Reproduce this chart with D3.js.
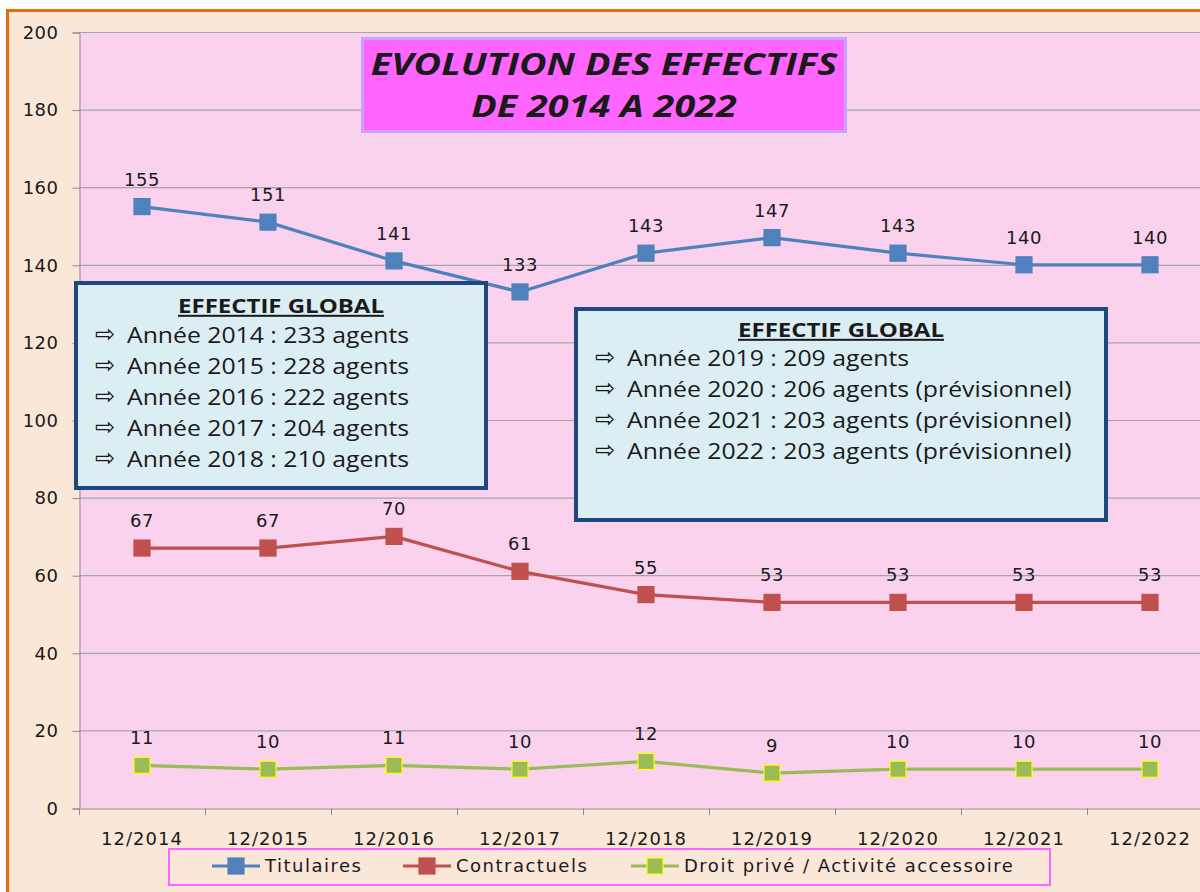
<!DOCTYPE html>
<html>
<head>
<meta charset="utf-8">
<script src="https://cdn.jsdelivr.net/npm/d3@7"></script>
<style>
  body { margin: 0; background: #fff; }
  svg text { fill: #1a1a1a; }
</style>
</head>
<body>
<div id="chart"></div>
<script>
// Data
var categories = ["12/2014", "12/2015", "12/2016", "12/2017", "12/2018", "12/2019", "12/2020", "12/2021", "12/2022"];
var titulaires = [155, 151, 141, 133, 143, 147, 143, 140, 140];
var contractuels = [67, 67, 70, 61, 55, 53, 53, 53, 53];
var droitPrive = [11, 10, 11, 10, 12, 9, 10, 10, 10];
var yTicks = [0, 20, 40, 60, 80, 100, 120, 140, 160, 180, 200];

var seriesNames = ["Titulaires", "Contractuels", "Droit privé / Activité accessoire"];
var boxLeftLines = ["Année 2014 : 233 agents", "Année 2015 : 228 agents", "Année 2016 : 222 agents", "Année 2017 : 204 agents", "Année 2018 : 210 agents"];
var boxRightLines = ["Année 2019 : 209 agents", "Année 2020 : 206 agents (prévisionnel)", "Année 2021 : 203 agents (prévisionnel)", "Année 2022 : 203 agents (prévisionnel)"];
var titleLines = ["EVOLUTION DES EFFECTIFS", "DE 2014 A 2022"];

var svgWidth = 1200;
var svgHeight = 892;

var plot = { left: 79, top: 32, bottom: 808, right: 79 + 9 * 126 };

var series = [
  { name: seriesNames[0], values: titulaires, color: "#4F81BD", stroke: "#4F81BD" },
  { name: seriesNames[1], values: contractuels, color: "#C0504D", stroke: "#C0504D" },
  { name: seriesNames[2], values: droitPrive, color: "#9BBB59", stroke: "#FFFF00" }
];

var svg = d3.select("#chart")
  .append("svg")
  .attr("width", svgWidth)
  .attr("height", svgHeight);

// page background + orange frame
svg.append("rect").attr("x", 0).attr("y", 0).attr("width", svgWidth).attr("height", svgHeight).attr("fill", "#fff");
svg.append("rect").attr("x", 7.5).attr("y", 10.5).attr("width", svgWidth + 20).attr("height", svgHeight + 20)
  .attr("fill", "#FBE7D8").attr("stroke", "#E46C0A").attr("stroke-width", 3);

// scales
var x = d3.scaleBand().domain(categories).range([plot.left, plot.right]);
var y = d3.scaleLinear().domain([0, 200]).range([plot.bottom, plot.top]);

// plot area
svg.append("rect")
  .attr("x", plot.left).attr("y", plot.top)
  .attr("width", plot.right - plot.left).attr("height", plot.bottom - plot.top)
  .attr("fill", "#FBD2EE");

// gridlines
svg.append("g").selectAll("line")
  .data(yTicks.slice(1))
  .enter()
  .append("line")
  .attr("x1", plot.left).attr("x2", plot.right)
  .attr("y1", d => y(d) + 0.5).attr("y2", d => y(d) + 0.5)
  .attr("stroke", "#A5A5A5").attr("stroke-width", 1.2);

// axes
var leftAxis = d3.axisLeft(y).tickValues(yTicks).tickSize(7).tickPadding(14);
var yAxisG = svg.append("g").attr("transform", `translate(${plot.left + 0.5}, 0.5)`).call(leftAxis);
yAxisG.select(".domain").attr("stroke", "#8C8C8C");
yAxisG.selectAll(".tick line").attr("stroke", "#8C8C8C");
yAxisG.selectAll("text").attr("font-family", "DejaVu Sans").attr("font-size", 18).attr("letter-spacing", 0.5).attr("fill", "#1a1a1a");

var bottomAxis = d3.axisBottom(x).tickSize(0).tickPadding(24);
var xAxisG = svg.append("g").attr("transform", `translate(0, ${plot.bottom + 0.5})`).call(bottomAxis);
xAxisG.select(".domain").attr("stroke", "#8C8C8C");
xAxisG.selectAll("text").attr("font-family", "DejaVu Sans").attr("font-size", 18).attr("letter-spacing", 1).attr("fill", "#1a1a1a");

// tick marks between categories
svg.append("g").selectAll("line")
  .data(categories)
  .enter()
  .append("line")
  .attr("x1", d => x(d) + 0.5).attr("x2", d => x(d) + 0.5)
  .attr("y1", plot.bottom).attr("y2", plot.bottom + 7)
  .attr("stroke", "#8C8C8C");

// lines
var line = d3.line()
  .x((d, i) => x(categories[i]) + x.bandwidth() / 2)
  .y(d => y(d));

series.forEach(function(s) {
  svg.append("path")
    .datum(s.values)
    .attr("d", line)
    .attr("fill", "none")
    .attr("stroke", s.color)
    .attr("stroke-width", 3.2)
    .attr("stroke-linejoin", "round");

  svg.append("g").selectAll("rect")
    .data(s.values)
    .enter()
    .append("rect")
    .attr("x", (d, i) => x(categories[i]) + x.bandwidth() / 2 - 8)
    .attr("y", d => y(d) - 8)
    .attr("width", 16).attr("height", 16)
    .attr("fill", s.color)
    .attr("stroke", s.stroke).attr("stroke-width", 1.2);

  svg.append("g").selectAll("text")
    .data(s.values)
    .enter()
    .append("text")
    .attr("x", (d, i) => x(categories[i]) + x.bandwidth() / 2)
    .attr("y", d => y(d) - 21)
    .attr("text-anchor", "middle")
    .attr("font-family", "DejaVu Sans").attr("font-size", 18).attr("letter-spacing", 0.5)
    .text(d => d);
});

// title box
svg.append("rect").attr("x", 362.5).attr("y", 38.5).attr("width", 483).attr("height", 93)
  .attr("fill", "#FF66FF").attr("stroke", "#C9A2FF").attr("stroke-width", 3);
svg.append("g").selectAll("text")
  .data(titleLines)
  .enter()
  .append("text")
  .attr("transform", (d, i) => `translate(604, ${75 + i * 42}) scale(1.26, 1)`)
  .attr("text-anchor", "middle")
  .attr("font-family", "Open Sans").attr("font-weight", "bold").attr("font-style", "italic")
  .attr("font-size", 30)
  .attr("fill", "#000")
  .text(d => d);

// info boxes
function infoBox(bx, by, bw, bh, lines, titleY, lineY0, textX) {
  var g = svg.append("g");
  g.append("rect").attr("x", bx).attr("y", by).attr("width", bw).attr("height", bh)
    .attr("fill", "#DAEEF3").attr("stroke", "#1F487C").attr("stroke-width", 4);
  g.append("text")
    .attr("transform", `translate(${bx + bw / 2}, ${titleY}) scale(1.2, 1)`)
    .attr("text-anchor", "middle")
    .attr("font-family", "Open Sans").attr("font-weight", "bold").attr("font-size", 20)
    .attr("text-decoration", "underline")
    .text("EFFECTIF GLOBAL");
  var rows = g.selectAll("g.row")
    .data(lines)
    .enter()
    .append("g")
    .attr("class", "row")
    .attr("transform", (d, i) => `translate(${textX}, ${lineY0 + i * 31})`);
  rows.append("text")
    .attr("font-family", "DejaVu Sans").attr("font-size", 24).attr("y", -1)
    .text("\u21E8");
  rows.append("text")
    .attr("transform", "translate(32, 0) scale(1.18, 1)")
    .attr("font-family", "Open Sans").attr("font-size", 21)
    .text(d => d);
}
infoBox(76, 283, 410, 205, boxLeftLines, 313, 343, 95);
infoBox(576, 309, 530, 211, boxRightLines, 337, 366, 595);

// legend
var legend = svg.append("g");
legend.append("rect").attr("x", 169).attr("y", 849).attr("width", 881).attr("height", 36)
  .attr("fill", "none").attr("stroke", "#FF66FF").attr("stroke-width", 2);
var legendX = [212, 403, 631];
series.forEach(function(s, i) {
  var lx = legendX[i];
  legend.append("line").attr("x1", lx).attr("x2", lx + 48).attr("y1", 866).attr("y2", 866)
    .attr("stroke", s.color).attr("stroke-width", 3.2);
  legend.append("rect").attr("x", lx + 16).attr("y", 858).attr("width", 16).attr("height", 16)
    .attr("fill", s.color).attr("stroke", s.stroke).attr("stroke-width", 1.2);
  legend.append("text").attr("x", lx + 53).attr("y", 872)
    .attr("font-family", "DejaVu Sans").attr("font-size", 18).attr("letter-spacing", 1.5)
    .text(s.name);
});
</script>
</body>
</html>
